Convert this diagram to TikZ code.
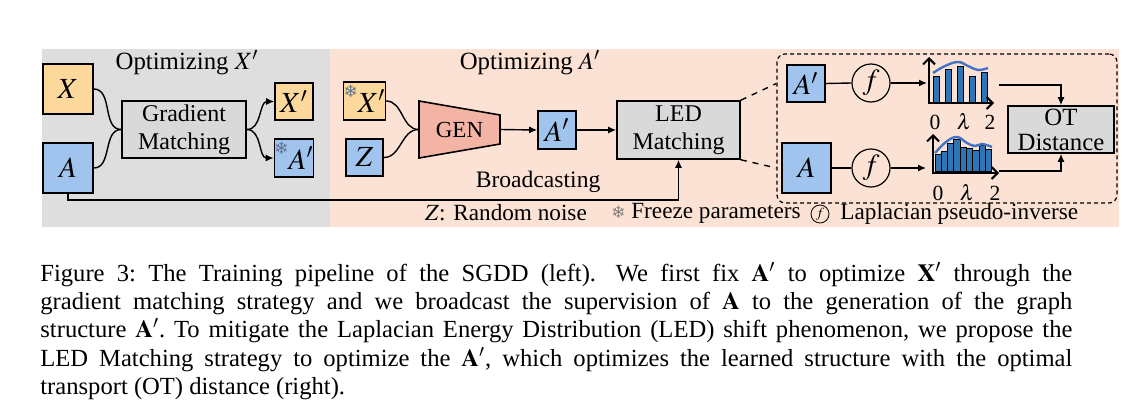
\documentclass[tikz,border=0pt]{standalone}
\usepackage{mathptmx}
\usepackage{fontspec}
\setmainfont{Liberation Serif}
\newfontfamily\dejavu{DejaVu Sans}
\usetikzlibrary{arrows.meta,positioning}
\definecolor{panelgray}{RGB}{222,222,222}
\definecolor{panelpink}{RGB}{251,226,213}
\definecolor{xorange}{RGB}{252,216,156}
\definecolor{ablue}{RGB}{160,196,238}
\definecolor{boxgray}{RGB}{217,217,217}
\definecolor{genred}{RGB}{243,180,165}
\definecolor{barblue}{RGB}{46,117,182}
\definecolor{curveblue}{RGB}{68,114,196}
\definecolor{snowgray}{RGB}{95,115,145}
\newcommand{\frz}{\smash{\raisebox{7.5pt}{\fontsize{8.5}{8.5}\dejavu\color{snowgray}❄}}}
\begin{document}
\begin{tikzpicture}[
  x=0.5pt, y=-0.5pt, >={Latex[length=4pt,width=3.5pt]},
  every node/.style={font=\fontsize{12.4}{14}\selectfont},
  var/.style={draw, line width=0.8pt, inner sep=0pt, font=\fontsize{14.6}{16}\selectfont},
  xvar/.style={var, fill=xorange},
  avar/.style={var, fill=ablue},
  block/.style={draw, line width=0.8pt, fill=boxgray, align=center, inner sep=0pt,
                font=\fontsize{12}{14}\selectfont},
  fun/.style={draw, circle, line width=0.6pt, minimum size=19pt, inner sep=0pt,
              font=\fontsize{14.6}{16}\selectfont},
  link/.style={line width=0.7pt},
  axis/.style={line width=1pt, {Straight Barb[length=3pt]}-{Straight Barb[length=3pt]}},
  lbl/.style={font=\fontsize{10.8}{12}\selectfont, inner sep=0pt}
]
  \useasboundingbox (0,0) rectangle (1147,418);
  \fill[panelgray] (42,49) rectangle (330,227);
  \fill[panelpink] (330,49) rectangle (1119,227);

  % optimizing X'
  \node at (187,63) {Optimizing $X'$};
  \node[xvar, minimum width=25pt, minimum height=25pt] (x) at (68,89) {$X$};
  \node[avar, minimum width=25pt, minimum height=25pt] (a) at (68,168) {$A$};
  \node[block, minimum width=62pt, minimum height=28.5pt] (gm) at (184,129.5) {Gradient\\Matching};
  \node[xvar, minimum width=19pt, minimum height=18.5pt] (xo) at (294,101.5) {$X'$};
  \node[avar, minimum width=19pt, minimum height=19pt] (ao) at (294,158) {\frz$A'$};

  % optimizing A'
  \node at (530,63) {Optimizing $A'$};
  \node[xvar, minimum width=18.5pt, minimum height=19pt] (xf) at (364.5,101) {\frz$X'$};
  \node[avar, minimum width=18.5pt, minimum height=18.5pt] (z) at (364.5,157.5) {$Z$};
  \draw[fill=genred, line width=0.8pt] (419,101) -- (500,115) -- (500,144) -- (419,158) -- cycle;
  \node[minimum width=40.5pt, minimum height=28.5pt, inner sep=0pt,
        font=\fontsize{11.5}{13}\selectfont] (gen) at (459.5,129.5) {GEN};
  \node[avar, minimum width=19pt, minimum height=19pt] (ap) at (557,130) {$A'$};
  \node[block, minimum width=61.5pt, minimum height=29pt] (led) at (678.5,130) {LED\\Matching};

  % LED matching detail
  \node[draw, dashed, dash pattern=on 2pt off 1.5pt, rounded corners=4pt, line width=0.6pt,
        minimum width=170pt, minimum height=74.5pt] (panel) at (947,128.5) {};
  \node[avar, minimum width=19pt, minimum height=18.5pt] (a2) at (806,83.5) {$A'$};
  \node[avar, minimum width=24.5pt, minimum height=25pt] (a3) at (806.5,168) {$A$};
  \node[fun] (f1) at (871,83) {$f$};
  \node[fun] (f2) at (871,168) {$f$};
  \node[block, minimum width=53pt, minimum height=23.5pt, font=\fontsize{12.4}{12.5}\selectfont]
    (ot) at (1061,129.5) {OT\\Distance};
  \coordinate (h1in) at (927,83);
  \coordinate (h1out) at (999,85);
  \coordinate (h2in) at (926,168);
  \coordinate (h2out) at (999,171);

  \foreach \x/\t in {933/76,945/69,957/66,969/76,981/72}
    \draw[fill=barblue, line width=0.5pt] (\x,102) rectangle (\x+6,\t);
  \draw[curveblue, line width=1.2pt] plot[smooth, tension=0.7]
    coordinates {(933,73) (945,66) (958,62) (968,66) (978,70) (988,68)};
  \draw[axis] (929,57) -- (929,103) -- (994,103);
  \node[lbl] (t0) at (935,122) {0};
  \node[lbl] (tl) at (964,122) {$\lambda$};
  \node[lbl] (t2) at (990,122) {2};

  \foreach \t [count=\i from 0] in {154,151,143,139,147,148,150,145,149}
    \draw[fill=barblue, line width=0.5pt] (935+6.33*\i,171) rectangle (941.33+6.33*\i,\t);
  \draw[curveblue, line width=1.2pt] plot[smooth, tension=0.7]
    coordinates {(935,153) (946,142) (957,137) (967,143) (975,146) (982,144) (992,147)};
  \draw[axis] (933,134) -- (933,173) -- (999,173);
  \node[lbl] (b0) at (938,193) {0};
  \node[lbl] (bl) at (967,193) {$\lambda$};
  \node[lbl] (b2) at (995,193) {2};

  % connectors
  \draw[link] (x.east) to[out=0, in=180] (gm.west);
  \draw[link] (a.east) to[out=0, in=180] (gm.west);
  \draw[link, ->] (gm.east) to[out=0, in=180] (xo.west);
  \draw[link, ->] (gm.east) to[out=0, in=180] (ao.west);
  \draw[link] (xf.east) to[out=0, in=180] (gen.west);
  \draw[link] (z.east) to[out=0, in=180] (gen.west);
  \draw[link, ->] (gen.east) -- (ap.west);
  \draw[link, ->] (ap.east) -- (led.west);
  \draw[link, ->] (a.south) -- ++(0,6) -| (led.south)
    node[pos=0.385, above, font=\fontsize{11.8}{13}\selectfont] {Broadcasting};
  \draw[link, dashed] (led.north east) -- (panel.west |- a2.west);
  \draw[link, dashed] (led.south east) -- (panel.west |- a3.west);
  \draw[link] (a2.east) -- (f1.west);
  \draw[link] (a3.east) -- (f2.west);
  \draw[link, ->] (f1.east) -- (h1in);
  \draw[link, ->] (f2.east) -- (h2in);
  \draw[link, ->] (h1out) -| (ot.north);
  \draw[link, ->] (h2out) -| (ot.south);

  % legend
  \node[font=\fontsize{11.6}{13}\selectfont] (kz) at (506,213) {$Z$: Random noise};
  \node[font=\fontsize{11.6}{13}\selectfont] (kf) at (706,213)
    {{\fontsize{8.5}{8.5}\dejavu\color{gray}❄}\ Freeze parameters};
  \node[draw, circle, inner sep=0pt, minimum size=9pt, line width=0.4pt,
        font=\fontsize{7}{7}\selectfont] (fkey) at (820,214) {$f$};
  \node[right=2pt of fkey, font=\fontsize{11.6}{13}\selectfont] (kl) {Laplacian pseudo-inverse};

  % caption
  \node[anchor=north west, text width=516pt, align=justify, inner sep=0pt,
        font=\fontsize{12.3}{14.15}\selectfont] (cap) at (40,262)
    {\frenchspacing Figure 3: The Training pipeline of the SGDD (left).\hspace{0.8em}We first fix $\mathbf{A}'$ to optimize $\mathbf{X}'$ through the\linebreak
     gradient matching strategy and we broadcast the supervision of $\mathbf{A}$ to the generation of the graph\linebreak
     structure $\mathbf{A}'$. To mitigate the Laplacian Energy Distribution (LED) shift phenomenon, we propose the\linebreak
     LED Matching strategy to optimize the $\mathbf{A}'$, which optimizes the learned structure with the optimal\linebreak
     transport (OT) distance (right).};
\end{tikzpicture}
\end{document}
